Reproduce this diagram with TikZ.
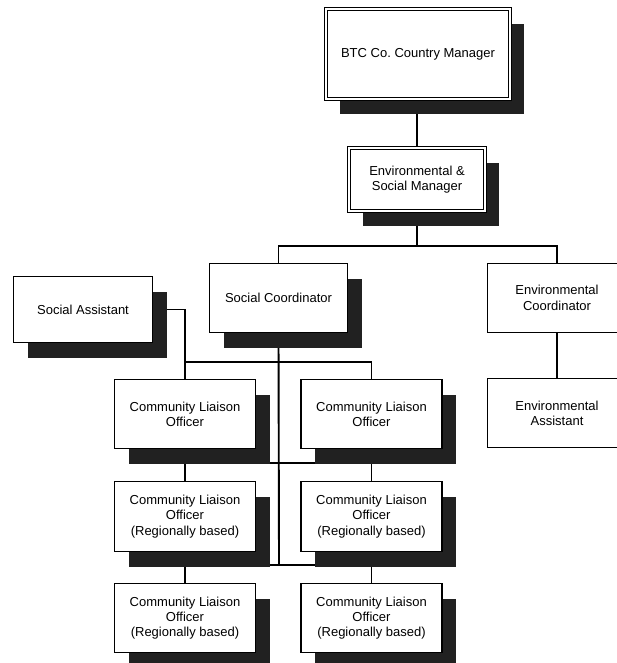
\documentclass[tikz,border=0pt]{standalone}
\usepackage{fontspec}
\setmainfont{Liberation Sans}
\usetikzlibrary{shadows}
\pgfdeclarelayer{bg}
\pgfdeclarelayer{lines}
\pgfsetlayers{bg,lines,main}
\frenchspacing
\begin{document}
\begin{tikzpicture}[x=1pt,y=-1pt,
  box/.style={draw, line width=1.1pt, fill=white, align=center, inner sep=0pt,
    font=\fontsize{13}{15.3}\selectfont},
  shad/.style={drop shadow={shadow xshift=14pt, shadow yshift=-15pt, fill=black!87, opacity=1}},
  dbl/.style={double, double distance=1.7pt, line width=1.3pt},
  conn/.style={line width=1.1pt},
  trunk/.style={line width=1.9pt}
]
\useasboundingbox (0,0) rectangle (617,663);
\begin{pgfonlayer}{bg}
  \fill[white] (0,0) rectangle (617,663);
\end{pgfonlayer}
\clip (0,0) rectangle (617,663);

% nodes
\node[box, dbl, shad, minimum width=184, minimum height=90] (btc) at (418,54) {BTC Co. Country Manager};
\node[box, dbl, shad, minimum width=136, minimum height=63] (esm) at (417,179.5) {Environmental \&\\Social Manager};
\node[box, shad, minimum width=138, minimum height=69] (sc) at (278.5,298) {Social Coordinator};
\node[box, shad, minimum width=139, minimum height=66] (sa) at (83,309.5) {Social Assistant};
\node[box, minimum width=139, minimum height=69] (ec) at (557,298) {Environmental\\Coordinator};
\node[box, minimum width=139, minimum height=69] (ea) at (557,413) {Environmental\\Assistant};
\node[box, shad, minimum width=141, minimum height=69] (clo1) at (185,414) {Community Liaison\\Officer};
\node[box, shad, minimum width=141, minimum height=69] (clo2) at (371.5,414) {Community Liaison\\Officer};
\node[box, shad, minimum width=141, minimum height=70] (clo3) at (185,516.5) {Community Liaison\\Officer\\(Regionally based)};
\node[box, shad, minimum width=141, minimum height=70] (clo4) at (371.5,516.5) {Community Liaison\\Officer\\(Regionally based)};
\node[box, shad, minimum width=141, minimum height=69] (clo5) at (185,618) {Community Liaison\\Officer\\(Regionally based)};
\node[box, shad, minimum width=141, minimum height=69] (clo6) at (371.5,618) {Community Liaison\\Officer\\(Regionally based)};

% bus coordinates
\coordinate (b1) at (417,246);
\coordinate (b2) at (185,362);
\coordinate (b3) at (185,463);
\coordinate (b4) at (185,565);
\coordinate (tend) at (279,565);

\begin{pgfonlayer}{lines}
  \draw[conn] (btc.south -| esm.north) -- (esm.north);
  \draw[conn] (esm.south) -- (b1);
  \draw[conn] (sc.north) |- (b1) -| (ec.north);
  \draw[conn] (ec.south) -- (ea.north);
  \draw[trunk] (sc.south) -- (tend);
  \draw[conn] (sa.east) -| (clo1.north);
  \draw[conn] (b2) -| (clo2.north);
  \draw[conn] (clo1.south) -- (clo3.north);
  \draw[conn] (clo2.south) -- (clo4.north);
  \draw[conn] (b3) -- (b3 -| clo2.north);
  \draw[conn] (clo3.south) -- (clo5.north);
  \draw[conn] (clo4.south) -- (clo6.north);
  \draw[conn] (b4) -- (b4 -| clo2.north);
\end{pgfonlayer}
\end{tikzpicture}
\end{document}
